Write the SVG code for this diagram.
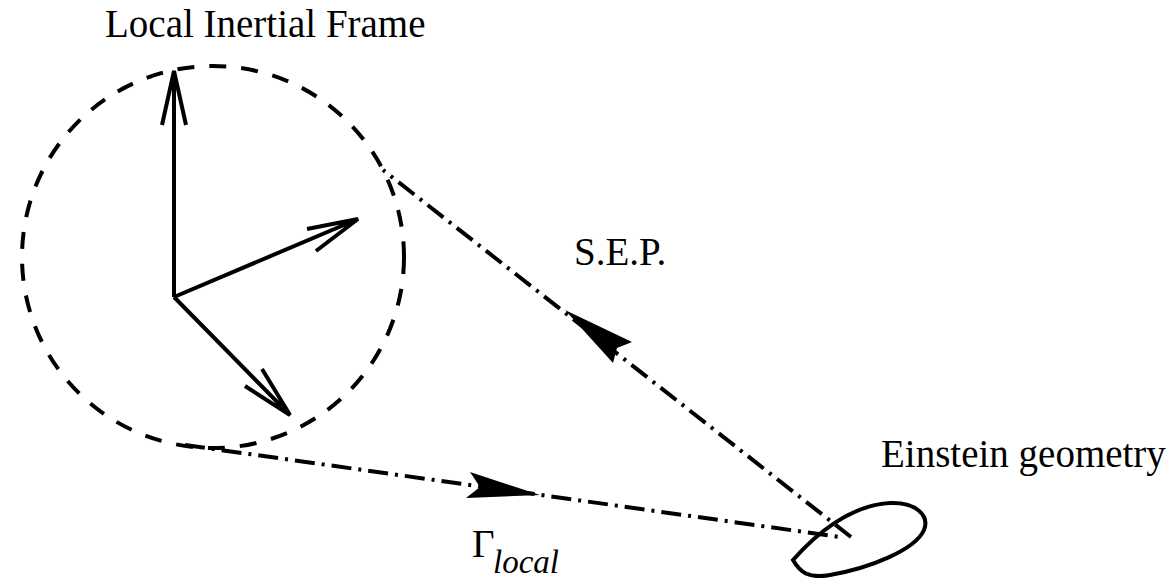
<svg xmlns="http://www.w3.org/2000/svg" width="1174" height="578" viewBox="0 0 1174 578">
<style>
.lbl{font-family:'Liberation Serif','DejaVu Serif','Times New Roman',serif;font-size:39px;fill:#000}
.it{font-style:italic;font-size:33px}
.solid{fill:none;stroke:#000;stroke-width:4;stroke-linecap:butt;stroke-linejoin:miter}
.dash{fill:none;stroke:#000;stroke-width:4;stroke-dasharray:17 15}
.dd{fill:none;stroke:#000;stroke-width:4;stroke-dasharray:20 7 3 7}
.head{fill:#000;stroke:none}
</style>
<rect width="1174" height="578" fill="#fff"/>
<g id="local-frame">
  <circle class="dash" cx="213" cy="257" r="191"/>
  <path class="solid" d="M174,297 L174,71 M162,125 L174,71 L186,125"/>
  <path class="solid" d="M174,297 L358,219 M307,229 L358,219 L316,251"/>
  <path class="solid" d="M174,297 L290,415 M245,386 L290,415 L262,369"/>
  <text class="lbl" x="105" y="37">Local Inertial Frame</text>
</g>
<g id="einstein">
  <path class="solid" d="M793,560 C815,535 850,505 890,503 C915,502 930,515 924,530 C915,550 870,568 830,575 C808,579 800,572 793,560 Z"/>
  <text class="lbl" x="881" y="467">Einstein geometry</text>
</g>
<g id="connectors">
  <path class="dd" d="M851,537 L383,170"/>
  <polygon class="head" points="565,310 632,342 617,348 613,363"/>
  <text class="lbl" x="574" y="265">S.E.P.</text>
  <path class="dd" d="M185,445 L840,537"/>
  <polygon class="head" points="540,495 470,472 480,487 466,498"/>
  <text class="lbl" x="472" y="557">Γ<tspan class="it" x="493" y="573">local</tspan></text>
</g>
</svg>
